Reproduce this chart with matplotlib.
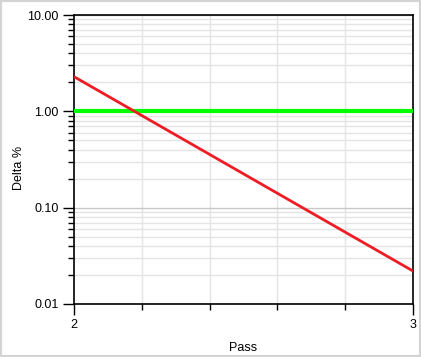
import numpy as np
import matplotlib.pyplot as plt
from matplotlib.ticker import FixedLocator, FormatStrFormatter, NullFormatter
from matplotlib.patches import Rectangle

plt.rcParams['font.family'] = ['Liberation Sans', 'DejaVu Sans']

# data
pass_x = [2, 3]
delta_red = [2.29, 0.022]
delta_green = [1.0, 1.0]
x_ticks = [2, 3]
y_ticks = [0.01, 0.1, 1.0, 10.0]

fig = plt.figure(figsize=(4.21, 3.57), dpi=100)
ax = fig.add_axes([74/421, 1 - 304/357, 339/421, 289/357])

ax.plot(pass_x, delta_green, color='#00ff00', lw=3, solid_capstyle='butt', zorder=3)
ax.plot(pass_x, delta_red, color='#ee1c24', lw=2, solid_capstyle='butt', zorder=4)

ax.set_yscale('log')
ax.set_xlim(2, 3)
ax.set_ylim(0.01, 10)

ax.set_xticks(x_ticks)
ax.xaxis.set_minor_locator(FixedLocator([2.2, 2.4, 2.6, 2.8]))
ax.set_yticks(y_ticks)
ax.yaxis.set_major_formatter(FormatStrFormatter('%.2f'))
ax.yaxis.set_minor_formatter(NullFormatter())

ax.tick_params(which='major', direction='out', length=8, width=1, labelsize=9, color='black', pad=3)
ax.tick_params(which='minor', direction='out', length=4, width=1, color='black')

ax.grid(True, which='major', axis='y', color='#c8c8c8', lw=1)
ax.grid(True, which='minor', axis='y', color='#e4e4e4', lw=1)
ax.grid(True, which='minor', axis='x', color='#e4e4e4', lw=1)
ax.set_axisbelow(True)

for s in ax.spines.values():
    s.set_color('black')
    s.set_linewidth(1.2)

ax.set_xlabel('Pass', fontsize=9, labelpad=8)
ax.set_ylabel('Delta %', fontsize=9, labelpad=2, y=0.47)

# light grey frame around the picture
fig.patches.append(Rectangle((0, 0), 1, 1, transform=fig.transFigure,
                             fill=False, edgecolor='#d4d4d4', lw=3))

fig.savefig('out.png', dpi=100)
